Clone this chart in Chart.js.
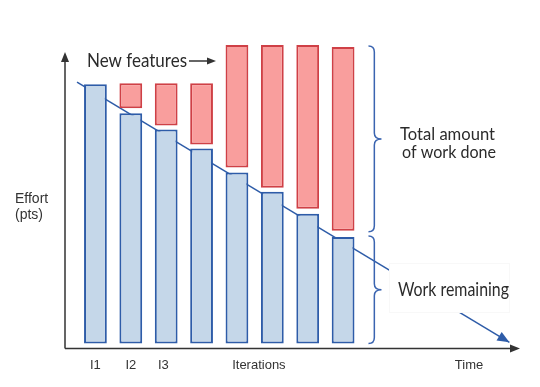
<!DOCTYPE html>
<html>
<head>
<meta charset="utf-8">
<script src="https://cdn.jsdelivr.net/npm/chart.js@4"></script>
<style>
  html, body { margin: 0; padding: 0; background: #fff; }
  #wrap { width: 540px; height: 387px; }
</style>
</head>
<body>
<div id="wrap"><canvas id="chart"></canvas></div>
<script>
// iterations and effort values (pts)
const iterations = [1, 2, 3, 4, 5, 6, 7, 8];
const workRemaining = [258, 229, 213, 194, 170, 151, 129, 106];
const newFeaturesLow = [null, 234, 217, 198, 175, 155, 134, 112];
const newFeaturesHigh = [null, 259, 259, 259, 297, 297, 297, 295];

// trend line of remaining work
const trendX = [0.48, 12.7];
const trendY = [260, 1];

// tick labels along the bottom
const tickValues = [1, 2, 2.92, 5.62, 11.56];
const tickLabels = ["I1", "I2", "I3", "Iterations", "Time"];

const BLUE = "#2e5ca8";
const RED = "#cf4046";
const INK = "#333333";
const HAND = "Lato, 'Noto Sans', sans-serif";

function arrowHead(ctx, x, y, angle, len, half, color) {
  ctx.save();
  ctx.translate(x, y);
  ctx.rotate(angle);
  ctx.fillStyle = color;
  ctx.beginPath();
  ctx.moveTo(0, 0);
  ctx.lineTo(-len, -half);
  ctx.lineTo(-len, half);
  ctx.closePath();
  ctx.fill();
  ctx.restore();
}

function brace(ctx, x, top, bottom, depth) {
  const mid = (top + bottom) / 2;
  const r = 6;
  const sx = x + depth * 0.45;
  ctx.beginPath();
  ctx.moveTo(x, top);
  ctx.quadraticCurveTo(sx, top, sx, top + r);
  ctx.lineTo(sx, mid - r);
  ctx.quadraticCurveTo(sx, mid, x + depth, mid);
  ctx.quadraticCurveTo(sx, mid, sx, mid + r);
  ctx.lineTo(sx, bottom - r);
  ctx.quadraticCurveTo(sx, bottom, x, bottom);
  ctx.stroke();
}

const decorations = {
  id: "decorations",
  afterDatasetsDraw(chart) {
    const { ctx, chartArea, scales } = chart;
    const y = scales.y;
    ctx.save();

    // label box covering the trend line
    ctx.fillStyle = "#ffffff";
    ctx.strokeStyle = "#f8f8f8";
    ctx.lineWidth = 1;
    ctx.fillRect(389, 263, 121, 50);
    ctx.strokeRect(389.5, 263.5, 120, 49);

    // trend arrow head
    const pts = chart.getDatasetMeta(2).data;
    const a = pts[0], b = pts[pts.length - 1];
    arrowHead(ctx, b.x, b.y, Math.atan2(b.y - a.y, b.x - a.x), 12, 5, BLUE);

    // axes
    ctx.strokeStyle = INK;
    ctx.lineWidth = 1.5;
    const ax = chartArea.left, ay = chartArea.bottom;
    const yTip = y.getPixelForValue(290);
    ctx.beginPath();
    ctx.moveTo(ax, ay);
    ctx.lineTo(ax, yTip + 6);
    ctx.moveTo(ax, ay);
    ctx.lineTo(chartArea.right - 6, ay);
    ctx.stroke();
    arrowHead(ctx, ax, yTip, -Math.PI / 2, 10, 4, INK);
    arrowHead(ctx, chartArea.right, ay, 0, 10, 4, INK);

    // braces next to last bar
    const last = iterations.length - 1;
    const bar = chart.getDatasetMeta(0).data[last];
    const bx = bar.x + bar.width / 2 + 14;
    ctx.strokeStyle = "#3a64b0";
    ctx.lineWidth = 1.5;
    brace(ctx, bx, y.getPixelForValue(newFeaturesHigh[last]) - 1,
      y.getPixelForValue(newFeaturesLow[last]) + 1, 13);
    brace(ctx, bx, y.getPixelForValue(workRemaining[last]) - 1,
      y.getPixelForValue(0), 13);

    // y axis title
    ctx.fillStyle = INK;
    ctx.font = "14px 'Liberation Sans', Arial, sans-serif";
    ctx.textAlign = "left";
    ctx.textBaseline = "alphabetic";
    ctx.fillText("Effort", 15, 203);
    ctx.fillText("(pts)", 15, 219);

    // hand written notes
    ctx.fillStyle = "#2b2b2b";
    ctx.font = "19px " + HAND;
    ctx.fillText("New features", 87, 67, 100);
    ctx.strokeStyle = INK;
    ctx.lineWidth = 1.5;
    ctx.beginPath();
    ctx.moveTo(189, 61);
    ctx.lineTo(208, 61);
    ctx.stroke();
    arrowHead(ctx, 216, 61, 0, 9, 3.5, INK);

    ctx.font = "18px " + HAND;
    ctx.fillText("Total amount", 400, 140, 95);
    ctx.font = "17px " + HAND;
    ctx.fillText("of work done", 402, 158, 94);

    ctx.font = "20px " + HAND;
    ctx.fillText("Work remaining", 398, 296, 111);

    ctx.restore();
  },
};

const ctx = document.getElementById("chart").getContext("2d");

new Chart(ctx, {
  type: "bar",
  data: {
    datasets: [
      {
        label: "Work remaining",
        data: iterations.map((it, i) => ({ x: it, y: workRemaining[i] })),
        backgroundColor: "#c5d7e9",
        borderColor: BLUE,
        borderWidth: 2,
        borderSkipped: false,
        grouped: false,
        barPercentage: 0.7,
        categoryPercentage: 1,
        order: 1,
      },
      {
        label: "New features",
        data: iterations.map((it, i) => ({
          x: it,
          y: newFeaturesHigh[i] == null ? null : [newFeaturesLow[i], newFeaturesHigh[i]],
        })),
        backgroundColor: "#f99e9d",
        borderColor: RED,
        borderWidth: 2,
        borderSkipped: false,
        grouped: false,
        barPercentage: 0.7,
        categoryPercentage: 1,
        order: 1,
      },
      {
        type: "line",
        label: "Trend",
        data: trendX.map((v, i) => ({ x: v, y: trendY[i] })),
        borderColor: BLUE,
        borderWidth: 1.5,
        pointRadius: 0,
        fill: false,
        order: 3,
      },
    ],
  },
  options: {
    responsive: true,
    maintainAspectRatio: false,
    animation: false,
    layout: { padding: { left: 65, right: 20, top: 42, bottom: 5 } },
    plugins: {
      legend: { display: false },
      tooltip: { enabled: false },
    },
    scales: {
      x: {
        type: "linear",
        min: 0.14,
        max: 13,
        offset: false,
        grid: { display: false, drawTicks: false },
        border: { display: false },
        afterBuildTicks: (scale) => {
          scale.ticks = tickValues.map((v) => ({ value: v }));
        },
        ticks: {
          autoSkip: false,
          maxRotation: 0,
          padding: 9,
          color: INK,
          font: { family: "'Liberation Sans', Arial, sans-serif", size: 13 },
          callback: (value, index) => tickLabels[index],
        },
      },
      y: {
        min: -5,
        max: 300,
        display: false,
      },
    },
  },
  plugins: [decorations],
});
</script>
</body>
</html>
